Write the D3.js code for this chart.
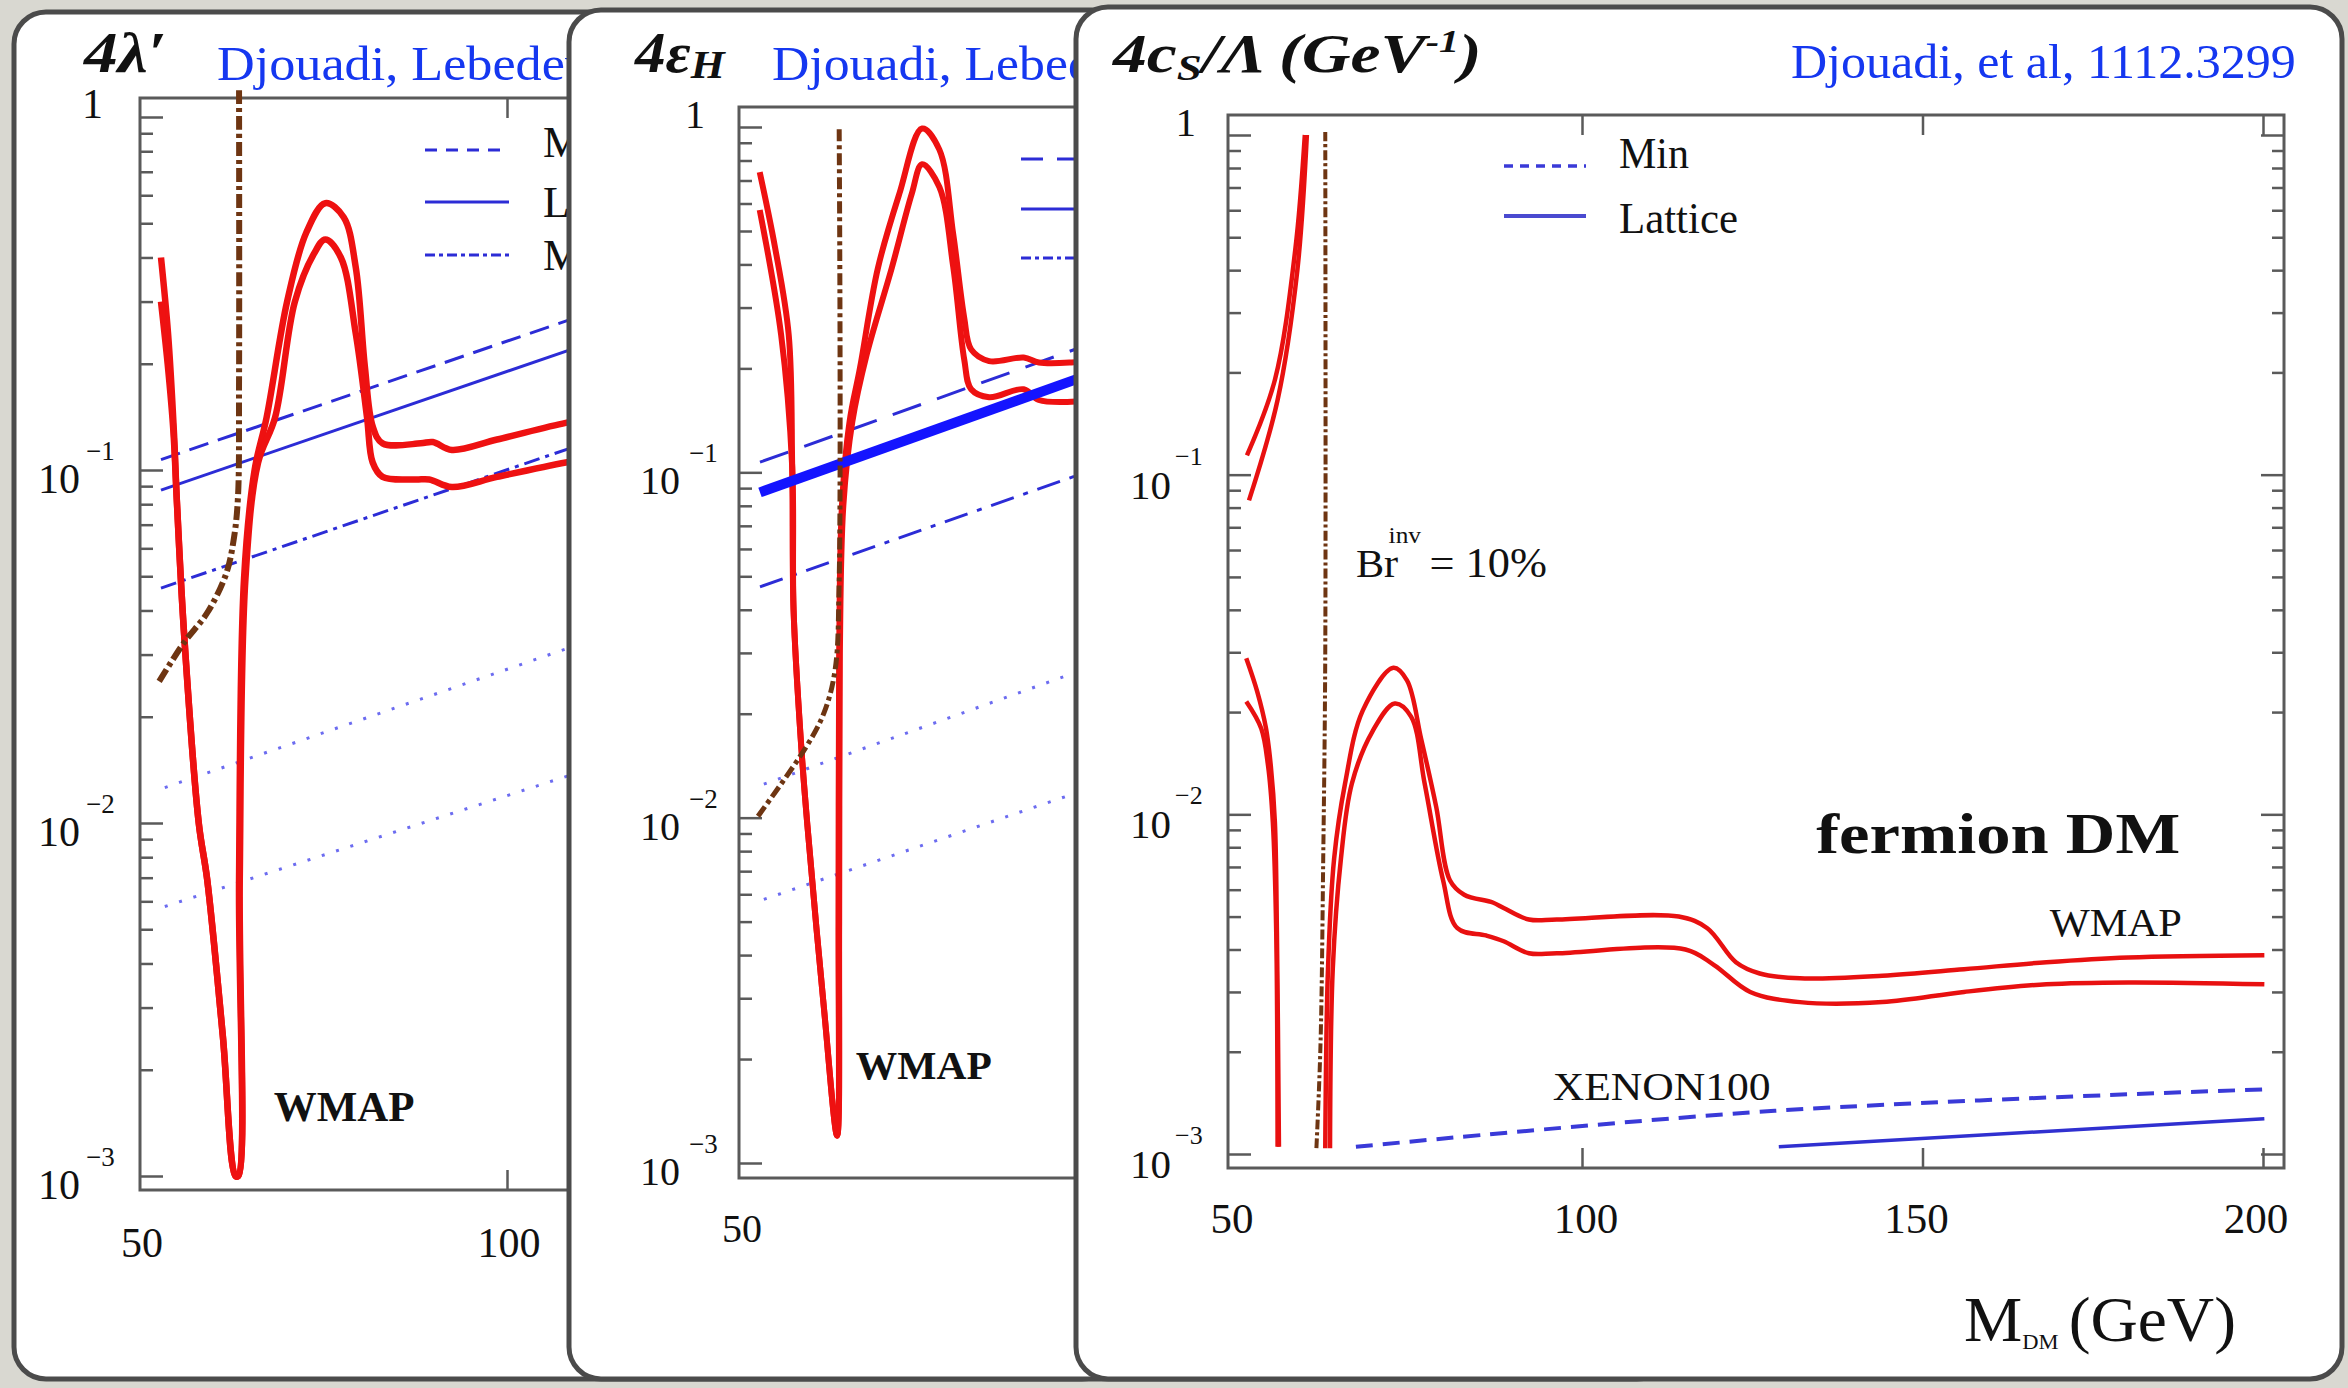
<!DOCTYPE html>
<html>
<head>
<meta charset="utf-8">
<script src="https://cdn.jsdelivr.net/npm/d3@7"></script>
<style>
  body { margin: 0; background: #d9d8d1; }
  svg { display: block; }
  text { font-family: "Liberation Serif", "Times New Roman", serif; fill: #111; }
</style>
</head>
<body>
<svg id="chart" width="2348" height="1388"></svg>
<script>
// ---------------- data : [M_DM (GeV), coupling] ----------------
const yMajorTicks = [1e-3, 1e-2, 1e-1, 1];
const legendLabels = ["Min", "Lattice", "Max"];

// panel 1 : 4 lambda'
const p1RedUpper = [[51.06,0.40],[52.05,0.245],[52.9,0.127],[53.3,0.082],[54.3,0.035],[56.4,0.010],[57.6,0.0069],[59.8,0.0025],[61.6,0.001],[62.0,0.001],[62.1,0.0069],[62.8,0.049],[64.3,0.1],[66.0,0.141],[68.9,0.30],[71.6,0.47],[74.3,0.57],[76.9,0.52],[78.6,0.376],[79.9,0.196],[81.0,0.133],[82.4,0.119],[87.8,0.119],[89.5,0.12],[92.2,0.114],[98.6,0.122],[108.3,0.136],[112,0.14]];
const p1RedLower = [[51.06,0.30],[52.0,0.2],[52.8,0.13],[53.3,0.082],[54.3,0.035],[56.4,0.010],[57.6,0.0069],[59.8,0.0025],[61.6,0.001],[62.0,0.001],[62.2,0.0069],[63.0,0.049],[64.8,0.105],[67.2,0.141],[70.0,0.30],[72.7,0.41],[74.3,0.45],[76.5,0.40],[78.6,0.244],[80.2,0.141],[81.0,0.105],[82.4,0.0956],[87.0,0.094],[89.0,0.094],[92.2,0.0895],[98.6,0.0956],[108.3,0.105],[112,0.108]];
const p1Brown = [[50.8,0.0252],[54.3,0.0324],[57.6,0.0394],[60.3,0.051],[61.4,0.0646],[61.95,0.084],[62.1,0.18],[62.1,1.19]];
const p1Min = [[51.06,0.107],[112,0.28]];
const p1Lattice = [[51.06,0.0877],[112,0.23]];
const p1Max = [[51.06,0.0463],[112,0.121]];
const p1DotHigh = [[51.6,0.0126],[112,0.033]];
const p1DotLow = [[51.6,0.0058],[112,0.0143]];

// panel 2 : 4 epsilon_H
const p2RedUpper = [[51.0,0.74],[53.2,0.45],[55.2,0.25],[55.7,0.104],[55.9,0.04],[57.0,0.0162],[57.9,0.0095],[60.3,0.0028],[62.2,0.0012],[62.4,0.005],[62.5,0.03],[62.9,0.08],[64.0,0.14],[65.5,0.2],[68.1,0.39],[71.2,0.64],[74.5,0.99],[77.0,0.86],[79.0,0.49],[80.6,0.28],[81.6,0.227],[84.2,0.21],[89.2,0.215],[91.4,0.208],[96.1,0.208],[100,0.212]];
const p2RedLower = [[51.0,0.575],[54.1,0.25],[55.7,0.104],[55.9,0.04],[57.0,0.0162],[57.9,0.0095],[60.3,0.0028],[62.2,0.0012],[62.5,0.005],[62.6,0.03],[63.1,0.08],[64.4,0.14],[66.5,0.22],[70.1,0.39],[73.0,0.64],[74.5,0.78],[77.0,0.67],[79.0,0.394],[80.6,0.212],[81.6,0.174],[84.2,0.165],[89.2,0.174],[91.4,0.162],[96.1,0.16],[100,0.163]];
const p2Brown = [[50.75,0.0101],[57.7,0.016],[60.3,0.0201],[61.9,0.0267],[62.5,0.0486],[62.5,1.0]];
const p2Min = [[51.04,0.107],[100,0.24]];
const p2Lattice = [[51.04,0.0875],[100,0.196]];
const p2Max = [[51.04,0.0466],[100,0.103]];
const p2DotHigh = [[51.6,0.0125],[100,0.0278]];
const p2DotLow = [[51.6,0.0058],[100,0.0124]];

// panel 3 : 4 c_S / Lambda, fermion DM
const p3RedTopA = [[50.8,0.114],[54.9,0.19],[57.9,0.46],[59.3,1.0]];
const p3RedTopB = [[51.1,0.084],[55.3,0.166],[58.2,0.40],[59.6,1.0]];
const p3RedLowA = [[50.7,0.0288],[52.3,0.023],[53.6,0.0179],[54.3,0.0139],[54.9,0.0095],[55.2,0.0045],[55.5,0.00105]];
const p3RedLowB = [[50.7,0.0215],[52.9,0.0179],[53.9,0.0139],[54.6,0.0095],[55.1,0.0045],[55.3,0.00105]];
const p3RedRightA = [[62.3,0.00104],[62.7,0.0035],[63.6,0.0074],[65.2,0.0123],[67.8,0.0202],[72.3,0.027],[74.3,0.0248],[76.4,0.0166],[78.6,0.0105],[80.6,0.0064],[82.7,0.0058],[86.9,0.0055],[88.5,0.0053],[92.2,0.0049],[96.3,0.0049],[114.2,0.0050],[118.4,0.00462],[122.6,0.00367],[126.1,0.0034],[132.0,0.00329],[144.1,0.00335],[156.1,0.0035],[168.2,0.00367],[180.2,0.00379],[200.2,0.00385]];
const p3RedRightB = [[63.0,0.00104],[63.4,0.0035],[64.6,0.0074],[66.2,0.0123],[69.2,0.0175],[72.5,0.0212],[74.9,0.0194],[76.9,0.0123],[79.6,0.0064],[81.7,0.00462],[85.9,0.0044],[88.5,0.00423],[92.2,0.0039],[96.3,0.0039],[115.2,0.0040],[119.4,0.0036],[124.7,0.0030],[132.0,0.0028],[144.1,0.0028],[156.1,0.0030],[168.2,0.00316],[180.2,0.0032],[200.2,0.00316]];
const p3Brown = [[61.0,0.00104],[61.6,0.0021],[62.0,0.0074],[62.3,0.03],[62.3,1.02]];
const p3XenonMin = [[66.8,0.00105],[128.3,0.00134],[200.2,0.00155]];
const p3XenonLattice = [[128.9,0.00105],[200.2,0.00127]];

// ---------------- styles ----------------
const red = "#ee1111", brown = "#6e3512", blue = "#2c2cd6", dotBlue = "#6c6cf0";
const credit = "#1537f0";

const svg = d3.select("#chart");
const defs = svg.append("defs");

svg.append("rect").attr("width", 2348).attr("height", 1388).attr("fill", "#d9d8d1");

function fitWidth(sel, x0, target) {
  const w = sel.node().getBBox().width;
  sel.attr("transform", `translate(${x0},0) scale(${target / w},1) translate(${-x0},0)`);
}

function shell(id, box) {
  defs.append("clipPath").attr("id", "clip-" + id)
    .append("rect").attr("x", box.x).attr("y", box.y)
    .attr("width", box.w).attr("height", box.h).attr("rx", 32);
  const g = svg.append("g").attr("id", id);
  g.append("rect").attr("x", box.x).attr("y", box.y)
    .attr("width", box.w).attr("height", box.h).attr("rx", 32).attr("fill", "#fff");
  const inner = g.append("g").attr("clip-path", `url(#clip-${id})`);
  return { g, inner, box };
}

function closeShell(s) {
  s.g.append("rect").attr("x", s.box.x).attr("y", s.box.y)
    .attr("width", s.box.w).attr("height", s.box.h).attr("rx", 32)
    .attr("fill", "none").attr("stroke", "#4b4b4b").attr("stroke-width", 5);
}

function drawFrame(g, x, y, f) {
  const axisColor = "#5a5a5a";
  const minor = y.ticks().filter(v => !yMajorTicks.includes(v));
  const styleAxis = sel => {
    sel.select(".domain").remove();
    sel.selectAll(".tick line").attr("stroke", axisColor).attr("stroke-width", 2.5);
  };
  g.append("g").attr("transform", `translate(${f.left},0)`)
    .call(d3.axisLeft(y).tickValues(minor).tickSize(-13).tickFormat("")).call(styleAxis);
  g.append("g").attr("transform", `translate(${f.left},0)`)
    .call(d3.axisLeft(y).tickValues(yMajorTicks).tickSize(-23).tickFormat("")).call(styleAxis);
  if (f.rightTicks) {
    g.append("g").attr("transform", `translate(${f.right},0)`)
      .call(d3.axisRight(y).tickValues(minor).tickSize(-12).tickFormat("")).call(styleAxis);
    g.append("g").attr("transform", `translate(${f.right},0)`)
      .call(d3.axisRight(y).tickValues(yMajorTicks).tickSize(-23).tickFormat("")).call(styleAxis);
  }
  g.append("g").attr("transform", `translate(0,${f.bottom})`)
    .call(d3.axisBottom(x).tickValues(f.xTicks).tickSize(-20).tickFormat("")).call(styleAxis);
  g.append("g").attr("transform", `translate(0,${f.top})`)
    .call(d3.axisTop(x).tickValues(f.xTicks).tickSize(-20).tickFormat("")).call(styleAxis);
  g.append("rect").attr("x", f.left).attr("y", f.top)
    .attr("width", f.right - f.left).attr("height", f.bottom - f.top)
    .attr("fill", "none").attr("stroke", axisColor).attr("stroke-width", 3);
}

function yLabels(g, y, o) {
  yMajorTicks.forEach(v => {
    const e = Math.round(Math.log10(v));
    if (e === 0) {
      g.append("text").attr("x", o.oneX).attr("y", y(v) + 1)
        .attr("text-anchor", "end").style("font-size", o.size + "px").text("1");
    } else {
      const t = g.append("text").attr("x", o.tenX).attr("y", y(v) + o.tenDy)
        .style("font-size", o.size + "px");
      t.append("tspan").text("10");
      t.append("tspan").attr("x", o.supX).attr("y", y(v) + o.supDy)
        .style("font-size", o.supSize + "px").text("\u2212" + (-e));
    }
  });
}

function xLabels(g, x, list, base, size) {
  list.forEach(d => {
    g.append("text").attr("x", d.at !== undefined ? d.at : x(d.v) + d.dx)
      .attr("y", base).attr("text-anchor", "middle")
      .style("font-size", size + "px").text(d.v);
  });
}

function series(g, x, y, data, st) {
  const line = d3.line()
    .x(d => x(d[0])).y(d => y(d[1]))
    .curve(data.length > 2 ? d3.curveCatmullRom.alpha(0.5) : d3.curveLinear);
  g.append("path").datum(data).attr("d", line)
    .attr("fill", "none").attr("stroke", st.color).attr("stroke-width", st.width)
    .attr("stroke-dasharray", st.dash || null).attr("stroke-linejoin", "round")
    .attr("stroke-linecap", st.cap || "butt");
}

function legend(g, rows, x0, x1, textX, size) {
  rows.forEach((r, i) => {
    g.append("line").attr("x1", x0).attr("x2", x1).attr("y1", r.y).attr("y2", r.y)
      .attr("stroke", r.color || blue).attr("stroke-width", r.width)
      .attr("stroke-dasharray", r.dash || null);
    if (textX !== null) {
      g.append("text").attr("x", textX).attr("y", r.base)
        .style("font-size", size + "px").text(legendLabels[i]);
    }
  });
}

function creditText(g, x0, base, shown, visibleChars, visibleWidth) {
  const t = g.append("text").attr("x", x0).attr("y", base)
    .style("font-size", "48px").style("fill", credit).text(shown);
  const w = t.node().getSubStringLength(0, visibleChars);
  t.attr("transform", `translate(${x0},0) scale(${visibleWidth / w},1) translate(${-x0},0)`);
}

// ================= panel 1 =================
{
  const s = shell("p1", { x: 14, y: 12, w: 1100, h: 1367 });
  const g = s.inner;
  const x = d3.scaleLinear().domain([50, 100]).range([153.5, 507]);
  const y = d3.scaleLog().domain([1e-3, 1]).range([1176, 117]);
  drawFrame(g, x, y, { left: 140, right: 960, top: 98, bottom: 1190, xTicks: [100, 150] });

  series(g, x, y, p1DotHigh, { color: dotBlue, width: 3, dash: "3,12" });
  series(g, x, y, p1DotLow, { color: dotBlue, width: 3, dash: "3,12" });
  series(g, x, y, p1Max, { color: blue, width: 3, dash: "16,6,4,6" });
  series(g, x, y, p1Lattice, { color: blue, width: 3 });
  series(g, x, y, p1Min, { color: blue, width: 3, dash: "20,10" });
  series(g, x, y, p1RedUpper, { color: red, width: 6.5 });
  series(g, x, y, p1RedLower, { color: red, width: 6.5 });
  series(g, x, y, p1Brown, { color: brown, width: 6, dash: "14,4,4,4" });

  legend(g, [
    { y: 150, base: 157, width: 3, dash: "12,9" },
    { y: 202, base: 217, width: 3 },
    { y: 255, base: 270, width: 3, dash: "10,4,4,4" }
  ], 425, 509, 543, 44);

  yLabels(g, y, { oneX: 103, tenX: 38, supX: 86, tenDy: 23, supDy: -10, size: 42, supSize: 27 });
  xLabels(g, x, [{ v: 50, at: 142 }, { v: 100, dx: 2 }], 1257, 42);

  const wm = g.append("text").attr("x", x(67.0)).attr("y", y(0.00143))
    .style("font-size", "42px").style("font-weight", "bold").text("WMAP");
  fitWidth(wm, x(67.0), 141);

  const t = g.append("text").attr("x", 84).attr("y", 72)
    .style("font-size", "56px").style("font-weight", "bold").style("font-style", "italic").text("4\u03bb\u2032");
  fitWidth(t, 84, 84);
  creditText(g, 217, 80, "Djouadi, Lebedev", 15, 348);
  closeShell(s);
}

// ================= panel 2 =================
{
  const s = shell("p2", { x: 569, y: 10, w: 1100, h: 1369 });
  const g = s.inner;
  const x = d3.scaleLinear().domain([50, 100]).range([752.8, 1098.3]);
  const y = d3.scaleLog().domain([1e-3, 1]).range([1163, 127]);
  drawFrame(g, x, y, { left: 739, right: 1500, top: 107, bottom: 1178, xTicks: [100, 150] });

  series(g, x, y, p2DotHigh, { color: dotBlue, width: 3, dash: "3,12" });
  series(g, x, y, p2DotLow, { color: dotBlue, width: 3, dash: "3,12" });
  series(g, x, y, p2Max, { color: blue, width: 3, dash: "24,10,5,10" });
  series(g, x, y, p2Min, { color: blue, width: 3, dash: "30,17" });
  series(g, x, y, p2RedUpper, { color: red, width: 6 });
  series(g, x, y, p2RedLower, { color: red, width: 6 });
  series(g, x, y, p2Lattice, { color: "#1414ff", width: 10 });
  series(g, x, y, p2Brown, { color: brown, width: 5, dash: "12,4,4,4" });

  // legend keys only: their labels sit under panel 3
  legend(g, [
    { y: 159, width: 3, dash: "22,14" },
    { y: 209, width: 3 },
    { y: 258, width: 3, dash: "10,4,4,4" }
  ], 1021, 1105, null, 44);

  yLabels(g, y, { oneX: 705, tenX: 640, supX: 689, tenDy: 22, supDy: -10, size: 40, supSize: 27 });
  xLabels(g, x, [{ v: 50, at: 742 }], 1242, 40);

  const wm = g.append("text").attr("x", x(64.9)).attr("y", y(0.00175))
    .style("font-size", "40px").style("font-weight", "bold").text("WMAP");
  fitWidth(wm, x(64.9), 136);

  const t = g.append("text").attr("x", 635).attr("y", 72)
    .style("font-size", "56px").style("font-weight", "bold").style("font-style", "italic");
  t.append("tspan").text("4\u03b5");
  t.append("tspan").attr("dy", 6).style("font-size", "40px").text("H");
  fitWidth(t, 635, 93);
  creditText(g, 772, 80, "Djouadi, Lebed", 13, 296);
  closeShell(s);
}

// ================= panel 3 =================
{
  const s = shell("p3", { x: 1076, y: 7, w: 1266, h: 1372 });
  const g = s.inner;
  const x = d3.scaleLinear().domain([100, 200]).range([1582, 2263]);
  const y = d3.scaleLog().domain([1e-3, 1]).range([1154, 135]);
  drawFrame(g, x, y, { left: 1228, right: 2284, top: 115, bottom: 1168, xTicks: [100, 150, 200], rightTicks: true });

  series(g, x, y, p3XenonMin, { color: "#3a3ad8", width: 4, dash: "17,10" });
  series(g, x, y, p3XenonLattice, { color: "#3030d0", width: 3.5 });
  [p3RedTopA, p3RedTopB, p3RedLowA, p3RedLowB, p3RedRightA, p3RedRightB]
    .forEach(d => series(g, x, y, d, { color: "#e81010", width: 4.5 }));
  series(g, x, y, p3Brown, { color: brown, width: 4, dash: "10,3,3,3" });

  legend(g, [
    { y: 166, width: 3.5, dash: "9,7", color: "#3a3ad8" },
    { y: 216, width: 4, color: "#4a4ad0" }
  ], 1504, 1586, null, 42);
  const lm = g.append("text").attr("x", 1619).attr("y", 168).style("font-size", "44px").text(legendLabels[0]);
  fitWidth(lm, 1619, 70);
  const ll = g.append("text").attr("x", 1619).attr("y", 233).style("font-size", "44px").text(legendLabels[1]);
  fitWidth(ll, 1619, 119);

  yLabels(g, y, { oneX: 1196, tenX: 1130, supX: 1175, tenDy: 24, supDy: -10, size: 41, supSize: 26 });
  xLabels(g, x, [{ v: 50, at: 1232 }, { v: 100, dx: 4 }, { v: 150, dx: -6 }, { v: 200, dx: -7 }], 1233, 43);

  // annotations
  const br = g.append("text").attr("x", x(66.8)).attr("y", y(0.0498)).style("font-size", "40px");
  br.append("tspan").text("Br");
  br.append("tspan").attr("dx", -9).attr("dy", -35).style("font-size", "24px").text("inv");
  br.append("tspan").attr("dx", 8).attr("dy", 35).style("font-size", "42px").text("= 10%");
  fitWidth(br, x(66.8), 191);

  const fd = g.append("text").attr("x", x(134.4)).attr("y", y(0.00768))
    .style("font-size", "56px").style("font-weight", "bold").text("fermion DM");
  fitWidth(fd, x(134.4), 364);

  const wm = g.append("text").attr("x", x(168.7)).attr("y", y(0.00438)).style("font-size", "40px").text("WMAP");
  fitWidth(wm, x(168.7), 132);
  const xe = g.append("text").attr("x", x(95.7)).attr("y", y(0.00144)).style("font-size", "40px").text("XENON100");
  fitWidth(xe, x(95.7), 218);

  const ax = g.append("text").attr("x", 1964).attr("y", 1341).style("font-size", "64px");
  ax.append("tspan").text("M");
  ax.append("tspan").attr("dx", 0).attr("dy", 8).style("font-size", "22px").text("DM");
  ax.append("tspan").attr("dx", 10).attr("dy", -8).text("(GeV)");
  fitWidth(ax, 1964, 272);

  const t = g.append("text").attr("x", 1113).attr("y", 72)
    .style("font-size", "54px").style("font-weight", "bold").style("font-style", "italic");
  t.append("tspan").text("4c");
  t.append("tspan").attr("dy", 8).style("font-size", "36px").text("S");
  t.append("tspan").attr("dy", -8).text("/\u039b (GeV");
  t.append("tspan").attr("dy", -20).style("font-size", "32px").text("-1");
  t.append("tspan").attr("dy", 20).text(")");
  fitWidth(t, 1113, 370);

  const c = g.append("text").attr("x", 1791).attr("y", 78)
    .style("font-size", "48px").style("fill", credit).text("Djouadi, et al, 1112.3299");
  fitWidth(c, 1791, 505);
  closeShell(s);
}
</script>
</body>
</html>
